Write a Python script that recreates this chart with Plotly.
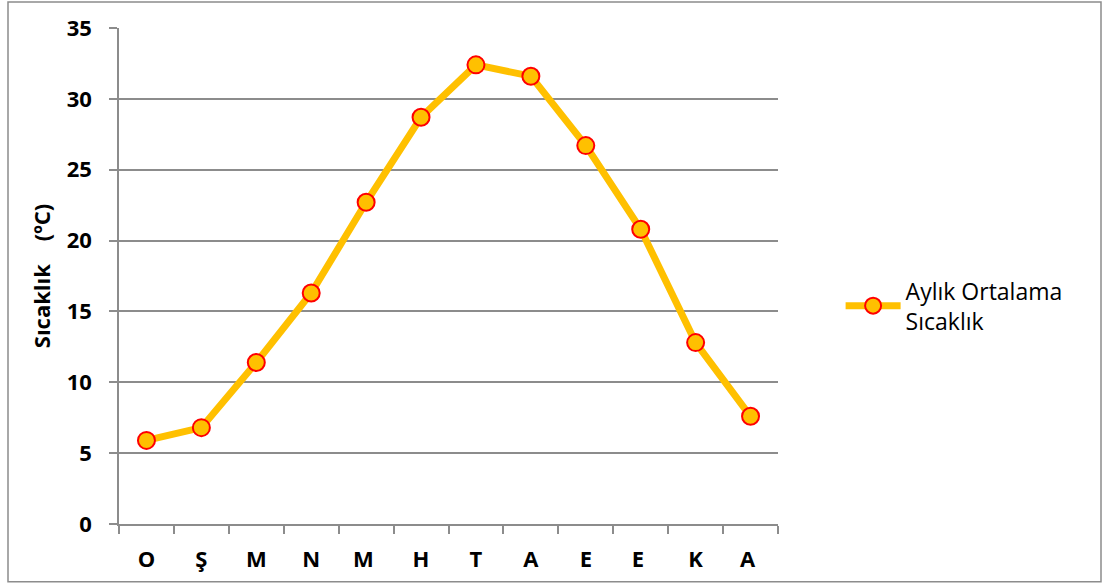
import plotly.graph_objects as go

# Monthly mean temperature (°C)
months = ["O", "Ş", "M", "N", "M ", "H", "T", "A", "E", "E ", "K", "A "]
temps = [5.9, 6.8, 11.4, 16.3, 22.7, 28.7, 32.4, 31.6, 26.7, 20.8, 12.8, 7.6]
y_ticks = [0, 5, 10, 15, 20, 25, 30, 35]

series_name = "Aylık Ortalama<br>Sıcaklık"
gold = "#FFC000"
grid = "#8C8C8C"
font_family = "Open Sans"

fig = go.Figure()

fig.add_trace(go.Scatter(
    x=months,
    y=temps,
    mode="lines+markers",
    name=series_name,
    line=dict(color=gold, width=7),
    marker=dict(size=17, color=gold, line=dict(color="#FF0000", width=2)),
))

fig.update_layout(
    width=1105,
    height=585,
    margin=dict(l=119, r=327, t=27, b=60),
    paper_bgcolor="white",
    plot_bgcolor="white",
    font=dict(family=font_family, color="black"),
    showlegend=True,
    legend=dict(
        x=1.095, y=0.44, xanchor="left", yanchor="middle",
        font=dict(size=23, family=font_family, color="black"),
        bgcolor="rgba(0,0,0,0)",
        itemwidth=55,
    ),
)

fig.update_xaxes(
    type="category",
    categoryorder="array",
    categoryarray=months,
    tickson="boundaries",
    ticks="outside",
    ticklen=8,
    tickwidth=1.5,
    tickcolor=grid,
    showline=True,
    linecolor=grid,
    linewidth=1.5,
    showgrid=False,
    ticklabelstandoff=15,
    tickfont=dict(size=22, family=font_family, color="black", weight="bold"),
    range=[-0.5, len(months) - 0.5],
)

fig.update_yaxes(
    range=[0, 35],
    tickvals=y_ticks,
    ticks="outside",
    ticklen=8,
    tickwidth=1.5,
    tickcolor=grid,
    showline=True,
    linecolor=grid,
    linewidth=1.5,
    showgrid=True,
    gridcolor=grid,
    gridwidth=1.5,
    zeroline=False,
    ticklabelstandoff=13,
    tickfont=dict(size=22, family=font_family, color="black", weight="bold"),
    title=dict(
        text="Sıcaklık    (ºC)",
        font=dict(size=22, family=font_family, color="black", weight="bold"),
        standoff=10,
    ),
)

# Outer chart frame
fig.add_shape(
    type="rect",
    xref="paper", yref="paper",
    x0=(8 - 119) / 659, x1=(1101 - 119) / 659,
    y0=(525 - 583) / 498, y1=(525 - 1) / 498,
    line=dict(color="#8C8C8C", width=1.5),
    fillcolor="rgba(0,0,0,0)",
    layer="below",
)

fig.write_html("out.html")
